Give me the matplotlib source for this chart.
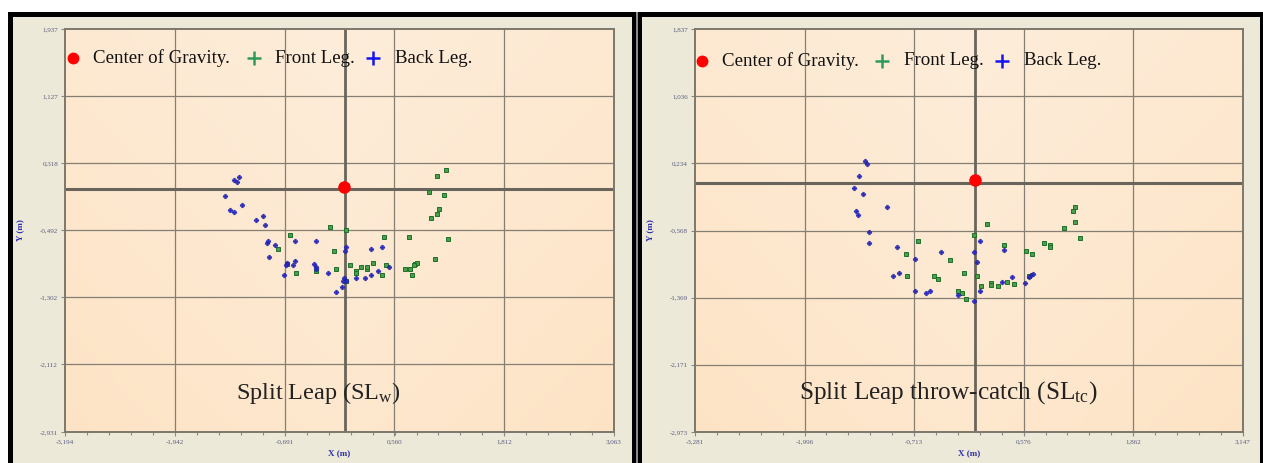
import matplotlib
matplotlib.use('Agg')
import matplotlib.pyplot as plt
import numpy as np
from matplotlib.patches import Rectangle
from matplotlib.ticker import AutoMinorLocator

plt.rcParams['mathtext.fontset'] = 'custom'
plt.rcParams['mathtext.rm'] = 'Liberation Serif'
plt.rcParams['mathtext.it'] = 'Liberation Serif:italic'

# ---------------- data: left panel (Split Leap SLw) ----------------
sl_cog = [(-0.01, 0.03)]
sl_back_x = [-1.268, -1.208, -1.231, -1.366, -1.315, -1.268, -1.180, -1.017, -0.943, -0.920,
             -0.896, -0.883, -0.799, -0.864, -0.571, -0.330, -0.669, -0.673, -0.571, -0.594,
             -0.697, -0.357, -0.339, -0.330, -0.195, 0.005, -0.004, 0.293, 0.419, -0.009,
             0.005, -0.023, -0.032, -0.111, 0.117, 0.228, 0.288, 0.377, 0.498]
sl_back_y = [0.117, 0.145, 0.084, -0.085, -0.254, -0.279, -0.186, -0.375, -0.327, -0.432,
             -0.649, -0.629, -0.674, -0.819, -0.625, -0.625, -0.891, -0.919, -0.871, -0.919,
             -1.040, -0.907, -0.940, -0.960, -1.016, -0.694, -0.742, -0.718, -0.694, -1.073,
             -1.113, -1.113, -1.185, -1.234, -1.065, -1.069, -1.040, -0.992, -0.940]
sl_front_x = [-0.176, 0.010, -0.632, -0.762, -0.130, -0.669, -0.557, -0.330, -0.111, 0.052,
              0.117, 0.121, 0.177, 0.251, 0.251, 0.316, 0.460, 0.414, 0.437, 0.721,
              0.679, 0.735, 0.790, 0.814, 0.781, 0.762, 1.018, 1.167, 1.051, 1.148,
              0.958, 1.130, 1.069, 1.041, 0.981, 0.005]
sl_front_y = [-0.456, -0.496, -0.549, -0.718, -0.742, -0.899, -1.016, -0.984, -0.964, -0.911,
              -0.984, -1.012, -0.936, -0.960, -0.936, -0.891, -0.911, -1.040, -0.577, -0.577,
              -0.964, -0.964, -0.903, -0.891, -0.919, -1.040, -0.843, -0.597, 0.157, 0.229,
              -0.037, -0.065, -0.234, -0.303, -0.351, -1.105]
sl_xticks = [-3.194, -1.942, -0.691, 0.560, 1.812, 3.063]
sl_xlabels = ['-3,194', '-1,942', '-0,691', '0,560', '1,812', '3,063']
sl_yticks = [1.937, 1.127, 0.318, -0.492, -1.302, -2.112, -2.931]
sl_ylabels = ['1,937', '1,127', '0,318', '-0,492', '-1,302', '-2,112', '-2,931']
sl_title = 'Split Leap (SL$_{\\rm w}$)'

# ---------------- data: right panel (Split Leap throw-catch SLtc) ----------------
tc_cog = [(0.0, 0.036)]
tc_back_x = [-1.290, -1.262, -1.352, -1.414, -1.309, -1.025, -1.395, -1.371, -1.243, -1.243,
             -0.917, -0.703, -0.396, -0.954, -0.888, -0.703, -0.576, -0.524, -0.201, -0.011,
             0.021, 0.064, -0.011, 0.064, 0.338, 0.315, 0.438, 0.585, 0.655, 0.689, 0.641]
tc_back_y = [0.262, 0.222, 0.086, -0.061, -0.137, -0.288, -0.332, -0.388, -0.587, -0.715,
             -0.763, -0.914, -0.819, -1.114, -1.074, -1.285, -1.313, -1.293, -1.341, -0.819,
             -0.942, -0.695, -1.409, -1.289, -0.795, -1.181, -1.118, -1.189, -1.102, -1.090, -1.122]
tc_front_x = [0.149, -0.011, -0.661, -0.808, -0.287, -0.126, -0.789, -0.481, -0.434, -0.201,
              -0.149, -0.107, 0.021, 0.069, 0.187, 0.196, 0.272, 0.376, 0.461, 0.338,
              0.603, 0.674, 0.817, 0.878, 0.878, 1.044, 1.172, 1.233, 1.148, 1.172, 0.641]
tc_front_y = [-0.492, -0.619, -0.695, -0.847, -0.918, -1.074, -1.114, -1.114, -1.142, -1.289,
              -1.309, -1.385, -1.114, -1.233, -1.197, -1.217, -1.233, -1.185, -1.209, -0.743,
              -0.815, -0.847, -0.715, -0.743, -0.767, -0.536, -0.464, -0.663, -0.336, -0.288, -1.114]
tc_xticks = [-3.281, -1.996, -0.713, 0.576, 1.862, 3.147]
tc_xlabels = ['-3,281', '-1,996', '-0,713', '0,576', '1,862', '3,147']
tc_yticks = [1.837, 1.036, 0.234, -0.568, -1.369, -2.171, -2.973]
tc_ylabels = ['1,837', '1,036', '0,234', '-0,568', '-1,369', '-2,171', '-2,973']
tc_title = 'Split Leap throw-catch (SL$_{\\rm tc}$)'

legend_labels = ['Center of Gravity.', 'Front Leg.', 'Back Leg.']

W, H = 1263, 463
fig = plt.figure(figsize=(W / 100, H / 100), dpi=100)
fig.patch.set_facecolor('white')


def rect_px(x0, y0, x1, y1, **kw):
    fig.patches.append(Rectangle((x0 / W, 1 - y1 / H), (x1 - x0) / W, (y1 - y0) / H,
                                 transform=fig.transFigure, figure=fig, **kw))


BEIGE = '#ECE9D8'
rect_px(8, 12, W, H + 2, facecolor='black', edgecolor='none', zorder=0)
rect_px(13, 17, 632, H + 2, facecolor=BEIGE, edgecolor='none', zorder=1)
rect_px(642, 17, 1260, H + 2, facecolor=BEIGE, edgecolor='none', zorder=1)
rect_px(636, 12, 638, H + 2, facecolor='#8a8a8a', edgecolor='none', zorder=1)

# background gradient
ny, nx = 60, 120
u = np.linspace(0, 1, nx)[None, :]
v = np.linspace(0, 1, ny)[:, None]
t = np.clip(0.5 * v + 0.35 * np.abs(u - 0.5) * 2, 0, 1)
top = np.array([253, 237, 218]) / 255
bot = np.array([253, 226, 194]) / 255
grad = top[None, None, :] * (1 - t[..., None]) + bot[None, None, :] * t[..., None]

GRID = '#857f73'
ZERO = '#6a655c'
TICKC = '#5a5a80'


def panel(left_px, width_px, xt, xl, yt, yl, cog, bx, by, fx, fy, title, leg_pos, ylab_x,
          title_size):
    ax = fig.add_axes([left_px / W, 1 - 432 / H, width_px / W, 403 / H])
    ax.set_zorder(3)
    ax.imshow(grad, extent=[0, 1, 0, 1], transform=ax.transAxes, aspect='auto',
              zorder=0, interpolation='bicubic')
    ax.set_xlim(xt[0], xt[-1])
    ax.set_ylim(yt[-1], yt[0])
    ax.set_xticks(xt)
    ax.set_xticklabels(xl)
    ax.set_yticks(yt)
    ax.set_yticklabels(yl)
    ax.xaxis.set_minor_locator(AutoMinorLocator(5))
    ax.tick_params(axis='both', which='both', direction='out', colors='#8a8a8a',
                   labelcolor=TICKC, labelsize=5, length=3, width=0.8, pad=2)
    ax.tick_params(axis='x', which='minor', length=2.5)
    for lab in ax.get_xticklabels() + ax.get_yticklabels():
        lab.set_family('Liberation Serif')
    for x in xt[1:-1]:
        ax.axvline(x, color=GRID, lw=0.9, zorder=1)
    for y in yt[1:-1]:
        ax.axhline(y, color=GRID, lw=0.9, zorder=1)
    ax.axvline(0, color=ZERO, lw=2, zorder=1.5)
    ax.axhline(0, color=ZERO, lw=2.2, zorder=1.5)
    for s in ax.spines.values():
        s.set_color('#7d776c')
        s.set_linewidth(1.4)
    ax.plot(fx, fy, linestyle='none', marker='s', markersize=3.0, markerfacecolor='#4aa04a',
            markeredgecolor='#1f6f2a', markeredgewidth=0.7, zorder=3)
    ax.plot(bx, by, linestyle='none', marker='P', markersize=3.4, markerfacecolor='#2a2ac8',
            markeredgecolor='#1a1a9a', markeredgewidth=0.3, zorder=3)
    ax.plot([c[0] for c in cog], [c[1] for c in cog], linestyle='none', marker='o',
            markersize=8, color='#ff0000', zorder=4)
    # legend-like labels
    (dx, dy), (t1x, g_x, t2x, b_x, t3x) = leg_pos
    ax.plot([dx], [dy], transform=ax.transAxes, marker='o', markersize=7.5, color='#ff0000',
            linestyle='none', clip_on=False, zorder=5)
    ax.plot([g_x], [dy], transform=ax.transAxes, marker='+', markersize=10, mew=1.8,
            color='#2e9a5e', linestyle='none', clip_on=False, zorder=5)
    ax.plot([b_x], [dy], transform=ax.transAxes, marker='+', markersize=10, mew=1.8,
            color='#1414ee', linestyle='none', clip_on=False, zorder=5)
    for tx, s in zip((t1x, t2x, t3x), legend_labels):
        ax.text(tx, dy, s, transform=ax.transAxes, ha='left', va='center',
                fontsize=13.6, family='Liberation Serif', color='#111111', zorder=5)
    ax.text(0.5 - 21 / width_px, 1 - (393 - 29) / 403, title, transform=ax.transAxes,
            ha='center', va='center', fontsize=title_size, family='Liberation Serif',
            color='#222222', zorder=5)
    ax.set_xlabel('X (m)', fontsize=6.5, family='Liberation Serif', color='#3030b0',
                  fontweight='bold', labelpad=4)
    ax.set_ylabel('Y (m)', fontsize=6.5, family='Liberation Serif', color='#3030b0',
                  fontweight='bold')
    ax.yaxis.set_label_coords((ylab_x - left_px) / width_px, 0.5)
    return ax


panel(65, 549, sl_xticks, sl_xlabels, sl_yticks, sl_ylabels, sl_cog,
      sl_back_x, sl_back_y, sl_front_x, sl_front_y, sl_title,
      ((0.0146, 0.928), (0.051, 0.344, 0.3825, 0.561, 0.601)), 24, 17.5)
panel(695, 548, tc_xticks, tc_xlabels, tc_yticks, tc_ylabels, tc_cog,
      tc_back_x, tc_back_y, tc_front_x, tc_front_y, tc_title,
      ((0.0126, 0.921), (0.049, 0.342, 0.382, 0.560, 0.600)), 654, 18.2)

fig.savefig('out.png', dpi=100, facecolor='white')
